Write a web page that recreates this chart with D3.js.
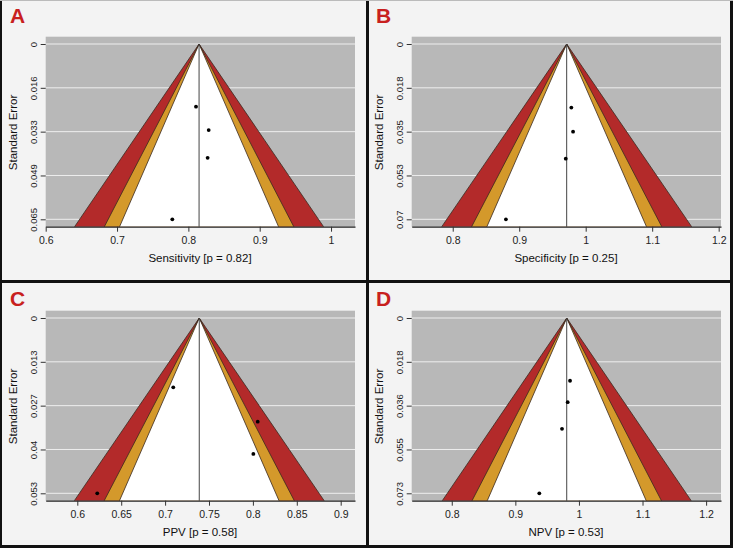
<!DOCTYPE html>
<html>
<head>
<meta charset="utf-8">
<script src="https://cdn.jsdelivr.net/npm/d3@7"></script>
<style>
  html, body { margin: 0; padding: 0; background: #f3f3f3; }
  svg { display: block; }
  text { font-family: "Liberation Sans", Arial, sans-serif; }
</style>
</head>
<body>
<svg id="chart" width="733" height="548"></svg>
<script>
// ---- Data ----
const panelLetters = ["A", "B", "C", "D"];
const xTitles = ["Sensitivity [p = 0.82]", "Specificity [p = 0.25]", "PPV [p = 0.58]", "NPV [p = 0.53]"];
const pooledEstimates = [0.815, 0.9714, 0.7389, 0.9808];
const seMaxValues = [0.065, 0.070, 0.053, 0.0729];
const seTickLabels = [
  ["0", "0.016", "0.033", "0.049", "0.065"],
  ["0", "0.018", "0.035", "0.053", "0.07"],
  ["0", "0.013", "0.027", "0.04", "0.053"],
  ["0", "0.018", "0.036", "0.055", "0.073"]
];
const xDomains = [[0.6, 1.0336], [0.7383, 1.2035], [0.564, 0.9163], [0.737, 1.2234]];
const xTickValues = [
  [0.6, 0.7, 0.8, 0.9, 1],
  [0.8, 0.9, 1, 1.1, 1.2],
  [0.6, 0.65, 0.7, 0.75, 0.8, 0.85, 0.9],
  [0.8, 0.9, 1, 1.1, 1.2]
];
// study estimates and standard errors
const studyEstimates = [
  [0.8107, 0.8285, 0.827, 0.7775],
  [0.9784, 0.981, 0.970, 0.880],
  [0.7093, 0.8055, 0.8005, 0.6227],
  [0.986, 0.9823, 0.9734, 0.9377]
];
const studySE = [
  [0.02325, 0.0319, 0.0422, 0.065],
  [0.0254, 0.035, 0.0458, 0.070],
  [0.02096, 0.03135, 0.0411, 0.053],
  [0.0261, 0.035, 0.0461, 0.0729]
];
// contour levels (99%, 95%, 90%)
const contourZ = [2.576, 1.96, 1.645];
const contourColors = ["#b32a2a", "#d4992b", "#ffffff"];

// ---- Layout ----
const svg = d3.select("#chart");
const offsets = [[0, 0], [366, 0], [0, 274], [366, 274]];
const letterOffsets = [[0, 0], [366, 0], [0, 283], [366, 283]];
const plotL = 45.7, plotR = 355, plotT = 36.7, plotB = 226.7;
const yTop = 44, yBot = 219.3;

svg.append("rect").attr("width", 733).attr("height", 548).attr("fill", "#f3f3f3");

panelLetters.forEach((letter, i) => {
  const g = svg.append("g").attr("transform", `translate(${offsets[i][0]},${offsets[i][1]})`);
  const x = d3.scaleLinear().domain(xDomains[i]).range([plotL, plotR]);
  const y = d3.scaleLinear().domain([0, seMaxValues[i]]).range([yTop, yBot]);
  const seBase = y.invert(plotB);
  const c = pooledEstimates[i];

  // plot background
  g.append("rect").attr("x", plotL).attr("y", plotT)
    .attr("width", plotR - plotL).attr("height", plotB - plotT)
    .attr("fill", "#b8b8b8");

  // gridlines
  const seTicks = seTickLabels[i].map((_, k) => seMaxValues[i] * k / 4);
  g.selectAll(".grid").data(seTicks).join("line")
    .attr("x1", plotL).attr("x2", plotR)
    .attr("y1", d => y(d)).attr("y2", d => y(d))
    .attr("stroke", "#eeeeee").attr("stroke-width", 1);

  // funnel contours
  contourZ.forEach((z, k) => {
    const pts = [[x(c), y(0)], [x(c - z * seBase), y(seBase)], [x(c + z * seBase), y(seBase)]];
    g.append("path")
      .attr("d", d3.line()(pts) + "Z")
      .attr("fill", contourColors[k]);
  });
  contourZ.forEach((z) => {
    [-1, 1].forEach(s => {
      g.append("line")
        .attr("x1", x(c)).attr("y1", y(0))
        .attr("x2", x(c + s * z * seBase)).attr("y2", y(seBase))
        .attr("stroke", "#3a2a20").attr("stroke-width", 0.8);
    });
  });

  // vertical pooled line
  g.append("line").attr("x1", x(c)).attr("x2", x(c))
    .attr("y1", y(0)).attr("y2", plotB)
    .attr("stroke", "#444").attr("stroke-width", 1);

  // points
  g.selectAll(".pt").data(studyEstimates[i].map((v, k) => [v, studySE[i][k]])).join("circle")
    .attr("cx", d => x(d[0])).attr("cy", d => y(d[1]))
    .attr("r", 1.9)
    .attr("fill", "#000");

  // x axis
  const xAxis = d3.axisBottom(x).tickValues(xTickValues[i])
    .tickSize(5).tickSizeOuter(0)
    .tickFormat(d => String(+d.toFixed(2)));
  const xa = g.append("g").attr("transform", `translate(0,${plotB})`).call(xAxis);
  xa.select(".domain").attr("stroke", "#222").attr("stroke-width", 1.2);
  xa.selectAll(".tick line").attr("stroke", "#333");
  xa.selectAll("text").attr("font-size", 10.5).attr("fill", "#222")
    .attr("font-family", "Liberation Sans, Arial, sans-serif").attr("dy", "0.9em");

  // y axis ticks (left, rotated labels)
  const yAxis = d3.axisLeft(y).tickValues(seTicks).tickSize(5).tickSizeOuter(0)
    .tickFormat((d, k) => seTickLabels[i][k]);
  const ya = g.append("g").attr("transform", `translate(${plotL},0)`).call(yAxis);
  ya.select(".domain").remove();
  ya.selectAll(".tick line").attr("stroke", "#333");
  ya.selectAll("text")
    .attr("font-size", 9.5).attr("fill", "#222")
    .attr("font-family", "Liberation Sans, Arial, sans-serif")
    .attr("text-anchor", "middle")
    .attr("x", null)
    .attr("transform", "translate(-12,0) rotate(-90)")
    .attr("dy", "0.35em");

  // axis titles
  g.append("text").attr("x", 200).attr("y", 261.5)
    .attr("text-anchor", "middle").attr("font-size", 11.5).attr("fill", "#111")
    .text(xTitles[i]);
  g.append("text")
    .attr("transform", `translate(16.5,132.5) rotate(-90)`)
    .attr("text-anchor", "middle").attr("font-size", 11.5).attr("fill", "#111")
    .text("Standard Error");

  // panel letter
  svg.append("text")
    .attr("x", letterOffsets[i][0] + 10).attr("y", letterOffsets[i][1] + 22.5)
    .attr("font-size", 21).attr("font-weight", "bold").attr("fill", "#c8201e")
    .attr("font-family", "Liberation Sans, Arial, sans-serif")
    .text(letter);
});

// frames
const frame = svg.append("g").attr("stroke", "#111").attr("fill", "none");
frame.append("line").attr("x1", 1).attr("x2", 1).attr("y1", 0).attr("y2", 548).attr("stroke-width", 2);
frame.append("line").attr("x1", 731.5).attr("x2", 731.5).attr("y1", 0).attr("y2", 548).attr("stroke-width", 3);
frame.append("line").attr("x1", 0).attr("x2", 733).attr("y1", 546.5).attr("y2", 546.5).attr("stroke-width", 3);
frame.append("line").attr("x1", 367.5).attr("x2", 367.5).attr("y1", 0).attr("y2", 548).attr("stroke-width", 3);
frame.append("line").attr("x1", 0).attr("x2", 733).attr("y1", 281.5).attr("y2", 281.5).attr("stroke-width", 3);
frame.append("line").attr("x1", 0).attr("x2", 733).attr("y1", 0.5).attr("y2", 0.5).attr("stroke", "#bbb").attr("stroke-width", 1);
</script>
</body>
</html>
